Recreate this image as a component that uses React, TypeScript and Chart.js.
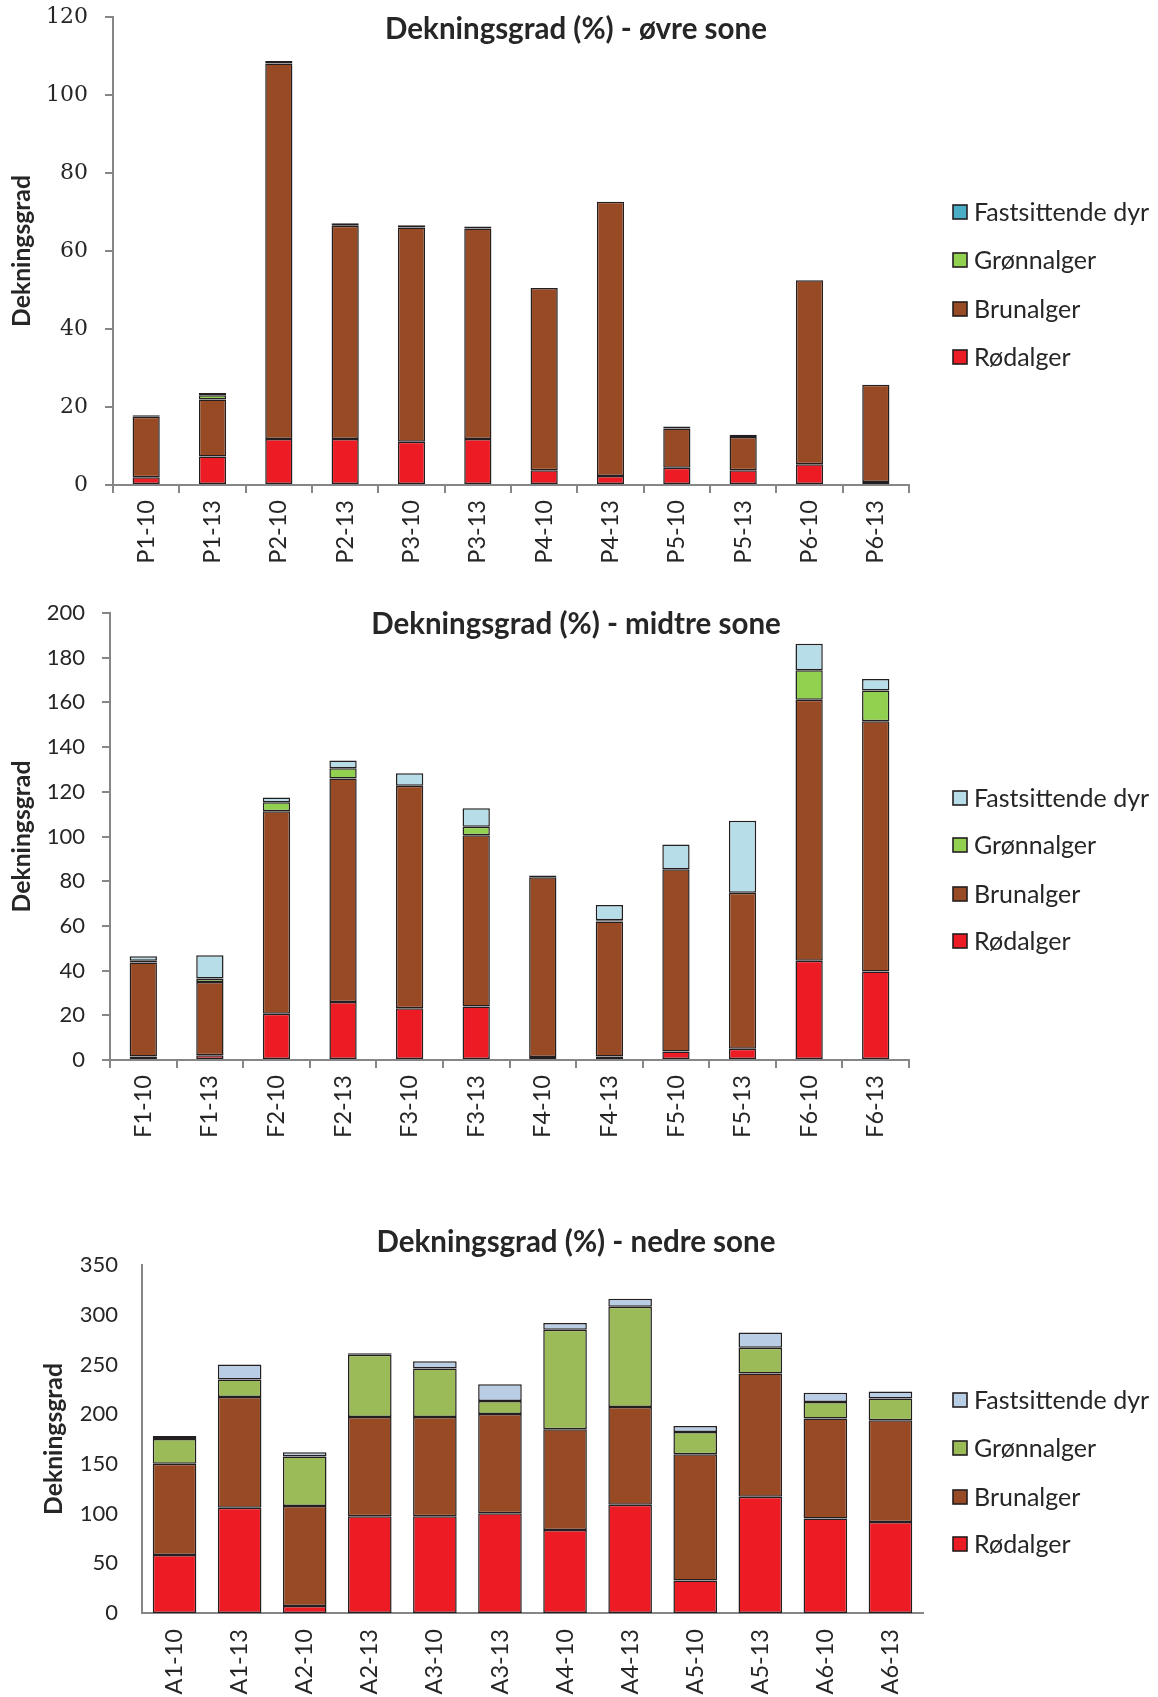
import React, { useEffect, useRef } from "react";
import { Chart, registerables } from "chart.js";

Chart.register(...registerables);

// ---------- data ----------
const SERIES_NAMES = ["Rødalger", "Brunalger", "Grønnalger", "Fastsittende dyr"];
const Y_TITLE = "Dekningsgrad";

// Øvre sone
const upperTitle = "Dekningsgrad (%) - øvre sone";
const upperCategories = ["P1-10", "P1-13", "P2-10", "P2-13", "P3-10", "P3-13", "P4-10", "P4-13", "P5-10", "P5-13", "P6-10", "P6-13"];
const upperRodalger = [2.0, 7.3, 11.8, 11.8, 11.1, 11.8, 3.8, 2.3, 4.4, 3.8, 5.3, 0.8];
const upperBrunalger = [15.5, 14.6, 96.3, 54.7, 54.9, 54.0, 46.7, 70.3, 10.1, 8.5, 47.2, 24.9];
const upperGronnalger = [0, 1.1, 0, 0, 0, 0, 0, 0, 0, 0, 0, 0];
const upperFastsittende = [0.4, 0.6, 0.6, 0.6, 0.6, 0.5, 0, 0, 0.5, 0.6, 0, 0];
const upperTicks = [0, 20, 40, 60, 80, 100, 120];

// Midtre sone
const middleTitle = "Dekningsgrad (%) - midtre sone";
const middleCategories = ["F1-10", "F1-13", "F2-10", "F2-13", "F3-10", "F3-13", "F4-10", "F4-13", "F5-10", "F5-13", "F6-10", "F6-13"];
const middleRodalger = [1.6, 2.1, 20.7, 25.9, 23.2, 23.9, 1.3, 1.6, 3.8, 5.0, 44.4, 39.6];
const middleBrunalger = [42.0, 32.8, 90.6, 100.0, 99.5, 76.7, 80.5, 60.4, 81.5, 69.8, 116.8, 112.0];
const middleGronnalger = [0.8, 1.6, 4.0, 4.6, 0, 3.8, 0, 0.5, 0, 0, 13.2, 13.7];
const middleFastsittende = [2.0, 10.4, 2.2, 3.5, 5.6, 8.2, 0.7, 6.8, 11.1, 32.2, 11.8, 5.2];
const middleTicks = [0, 20, 40, 60, 80, 100, 120, 140, 160, 180, 200];

// Nedre sone
const lowerTitle = "Dekningsgrad (%) - nedre sone";
const lowerCategories = ["A1-10", "A1-13", "A2-10", "A2-13", "A3-10", "A3-13", "A4-10", "A4-13", "A5-10", "A5-13", "A6-10", "A6-13"];
const lowerRodalger = [58.4, 105.8, 7.1, 97.4, 97.4, 100.4, 83.6, 108.8, 32.6, 116.9, 95.1, 91.4];
const lowerBrunalger = [91.8, 111.5, 100.4, 99.8, 99.8, 99.8, 101.2, 98.5, 127.0, 123.9, 100.4, 102.4];
const lowerGronnalger = [24.8, 17.5, 50.0, 62.5, 48.7, 13.1, 100.1, 100.8, 22.5, 25.9, 16.8, 21.9];
const lowerFastsittende = [3.0, 15.1, 4.1, 1.5, 7.4, 16.8, 6.7, 8.0, 6.0, 15.5, 9.1, 7.0];
const lowerTicks = [0, 50, 100, 150, 200, 250, 300, 350];

// ---------- styling ----------
const PAGE_W = 1158;
const TEXT = "#262626";
const AXIS = "#868686";
const EDGE = "#231f20";
const SANS = "Lato, 'Open Sans', sans-serif";
const SERIF = "'DejaVu Serif', serif";

type Panel = {
  top: number;
  height: number;
  title: string;
  titleY: number;
  categories: string[];
  series: number[][];
  colors: string[];
  ticks: number[];
  area: { left: number; right: number; top: number; bottom: number };
  yFont: string;
  yFontSize: number;
  yTitlePad: number;
  yTickPad: number;
  xTickPad: number;
  barFrac: number;
  tickMarks: boolean;
  legendY: number[];
};

const panels: Panel[] = [
  {
    top: 0,
    height: 580,
    title: upperTitle,
    titleY: 29,
    categories: upperCategories,
    series: [upperRodalger, upperBrunalger, upperGronnalger, upperFastsittende],
    colors: ["#ed1c24", "#974a23", "#92d050", "#4bacc6"],
    ticks: upperTicks,
    area: { left: 113, right: 909, top: 17, bottom: 485 },
    yFont: SERIF,
    yFontSize: 22,
    yTitlePad: 7,
    yTickPad: 17,
    xTickPad: 7,
    barFrac: 0.41,
    tickMarks: true,
    legendY: [212, 260, 309, 357],
  },
  {
    top: 580,
    height: 600,
    title: middleTitle,
    titleY: 44,
    categories: middleCategories,
    series: [middleRodalger, middleBrunalger, middleGronnalger, middleFastsittende],
    colors: ["#ed1c24", "#974a23", "#92d050", "#b7dee8"],
    ticks: middleTicks,
    area: { left: 110, right: 909, top: 33, bottom: 480 },
    yFont: SANS,
    yFontSize: 22,
    yTitlePad: 7,
    yTickPad: 17,
    xTickPad: 7,
    barFrac: 0.41,
    tickMarks: true,
    legendY: [218, 265, 314, 361],
  },
  {
    top: 1180,
    height: 517,
    title: lowerTitle,
    titleY: 62,
    categories: lowerCategories,
    series: [lowerRodalger, lowerBrunalger, lowerGronnalger, lowerFastsittende],
    colors: ["#ed1c24", "#974a23", "#9bbb59", "#b9cde5"],
    ticks: lowerTicks,
    area: { left: 142, right: 923, top: 85, bottom: 433 },
    yFont: SANS,
    yFontSize: 22,
    yTitlePad: 39,
    yTickPad: 24,
    xTickPad: 16,
    barFrac: 0.67,
    tickMarks: false,
    legendY: [220, 268, 317, 364],
  },
];

function ChartPanel({ p }: { p: Panel }) {
  const ref = useRef<HTMLCanvasElement | null>(null);

  useEffect(() => {
    const canvas = ref.current;
    if (!canvas) return;

    const overlay = {
      id: "overlay",
      afterDraw(chart: any) {
        const ctx = chart.ctx as CanvasRenderingContext2D;
        ctx.save();
        // title
        ctx.font = `bold 29.5px ${SANS}`;
        ctx.fillStyle = TEXT;
        ctx.textAlign = "center";
        ctx.textBaseline = "middle";
        ctx.fillText(p.title, 576, p.titleY);
        // legend (top to bottom: reverse of stacking order)
        ctx.font = `25px ${SANS}`;
        ctx.textAlign = "left";
        const order = [3, 2, 1, 0];
        order.forEach((si, row) => {
          const y = p.legendY[row];
          ctx.fillStyle = p.colors[si];
          ctx.fillRect(953, y - 7, 14, 14);
          ctx.strokeStyle = EDGE;
          ctx.lineWidth = 1.6;
          ctx.strokeRect(953, y - 7, 14, 14);
          ctx.fillStyle = TEXT;
          ctx.fillText(SERIES_NAMES[si], 974, y + 1);
        });
        ctx.restore();
      },
    };

    const datasets = p.series.map((vals, i) => ({
      label: SERIES_NAMES[i],
      data: vals,
      backgroundColor: p.colors[i],
      borderColor: EDGE,
      borderWidth: 1.5,
      borderSkipped: false,
      barPercentage: p.barFrac,
      categoryPercentage: 1,
    }));

    const ticks = p.ticks;
    const tickLen = p.tickMarks ? 8 : 0;
    const chart = new Chart(canvas, {
      type: "bar",
      data: { labels: p.categories, datasets },
      plugins: [overlay],
      options: {
        animation: false,
        responsive: false,
        devicePixelRatio: 1,
        layout: {
          padding: { left: 0, top: p.area.top, right: PAGE_W - p.area.right, bottom: 0 },
        },
        plugins: {
          legend: { display: false },
          title: { display: false },
          tooltip: { enabled: false },
        },
        scales: {
          x: {
            stacked: true,
            offset: true,
            afterFit: (axis: any) => {
              axis.height = p.height - p.area.bottom;
              axis.paddingLeft = 0;
              axis.paddingRight = 0;
            },
            border: { display: true, color: AXIS, width: 2 },
            grid: {
              display: p.tickMarks,
              drawOnChartArea: false,
              drawTicks: p.tickMarks,
              tickLength: tickLen,
              color: AXIS,
              lineWidth: 2,
              offset: true,
            },
            ticks: {
              autoSkip: false,
              maxRotation: 90,
              minRotation: 90,
              padding: p.xTickPad,
              color: TEXT,
              font: { family: SANS, size: 23.5 },
            },
          },
          y: {
            stacked: true,
            min: ticks[0],
            max: ticks[ticks.length - 1],
            afterFit: (axis: any) => {
              axis.width = p.area.left;
              axis.paddingTop = 0;
              axis.paddingBottom = 0;
            },
            afterBuildTicks: (axis: any) => {
              axis.ticks = ticks.map((v) => ({ value: v }));
            },
            border: { display: true, color: AXIS, width: 2 },
            grid: {
              display: p.tickMarks,
              drawOnChartArea: false,
              drawTicks: p.tickMarks,
              tickLength: tickLen,
              color: AXIS,
              lineWidth: 2,
            },
            ticks: {
              padding: p.yTickPad,
              color: TEXT,
              font: { family: p.yFont, size: p.yFontSize },
            },
            title: {
              display: true,
              text: Y_TITLE,
              color: TEXT,
              font: { family: SANS, size: 24.75, weight: "bold" },
              padding: { top: p.yTitlePad, bottom: 0 },
            },
          },
        },
      },
    } as any);

    return () => chart.destroy();
  }, [p]);

  return (
    <canvas
      ref={ref}
      width={PAGE_W}
      height={p.height}
      style={{ position: "absolute", left: 0, top: p.top, width: PAGE_W, height: p.height }}
    />
  );
}

export default function App() {
  return (
    <div
      style={{
        position: "absolute",
        left: 0,
        top: 0,
        width: PAGE_W,
        height: 1697,
        background: "#ffffff",
        overflow: "hidden",
      }}
    >
      {panels.map((p, i) => (
        <ChartPanel key={i} p={p} />
      ))}
    </div>
  );
}
